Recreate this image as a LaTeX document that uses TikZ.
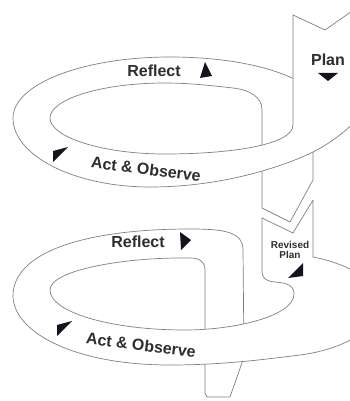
\documentclass[tikz,border=0pt]{standalone}
\usepackage{fontspec}
\setmainfont{Liberation Sans}
\usepackage{xcolor}
\definecolor{edge}{HTML}{808080}
\definecolor{ink}{HTML}{2E2E2E}
\definecolor{tip}{HTML}{141420}

\begin{document}
\begin{tikzpicture}[x=1pt,y=-1pt,band/.style={draw=edge,line width=0.7pt,fill=white,line join=round},big/.style={text=ink,font=\fontsize{16}{16}\selectfont\bfseries,inner sep=0pt},small/.style={text=ink,font=\fontsize{10}{10.5}\selectfont\bfseries,inner sep=0pt,align=center},pointer/.style={fill=tip}]
	\useasboundingbox (0,0) rectangle (350,401);
	\clip (0,0) rectangle (350,401);
	% upper loop, back half running into the strip
	\draw[band] (13,118) .. controls (13,84) and (83,57) .. (170,57) .. controls (230,57) and (275,68) .. (300,82) -- (313,95) -- (313,180) -- (290,222) -- (262,208) -- (262,110) .. controls (262,97) and (250,90) .. (233,88) .. controls (215,86) and (190,83) .. (165,83) .. controls (102,83) and (50,99) .. (50,118);
	% upper loop, plan strip and front half
	\draw[band] (50,118) .. controls (50,137) and (102,154) .. (165,154) .. controls (230,154) and (293,145) .. (293,125) -- (293,15) -- (325,30) -- (365,2) -- (380,2) -- (380,100) -- (370,105) .. controls (358,120) and (339,139) .. (313,152) .. controls (280,168) and (220,187) .. (150,187) .. controls (75,187) and (13,156) .. (13,118);
	% lower loop, back half and the way out
	\draw[band] (13,296) .. controls (13,252) and (85,229) .. (190,229) .. controls (225,229) and (243,232) .. (243,250) -- (244,357) -- (230,397) -- (207,397) -- (205,393) -- (205,270) .. controls (205,262) and (200,258) .. (190,258) .. controls (125,257) and (50,270) .. (50,290);
	% lower loop, revised plan and front half
	\draw[band] (50,290) .. controls (50,312) and (110,330) .. (185,330) .. controls (235,330) and (294,316) .. (294,294) .. controls (294,286) and (288,283) .. (275,282) .. controls (266,281) and (262,279) .. (262,270) -- (262,218) -- (293,233) -- (313,200) -- (313,257) .. controls (345,263) and (380,280) .. (380,305) .. controls (380,330) and (340,350) .. (300,355) .. controls (260,360) and (220,365) .. (170,365) .. controls (70,365) and (13,330) .. (13,296);
	% labels
	\node[big] (plan) at (328,60) {Plan};
	\node[big] (reflectTop) at (154,71) {Reflect};
	\node[big,rotate=-7] (actTop) at (146,169) {Act \& Observe};
	\node[small] (revised) at (290,250) {Revised\\Plan};
	\node[big] (reflectLow) at (138,242) {Reflect};
	\node[big,rotate=-7] (actLow) at (141,345) {Act \& Observe};
	% arrow heads
	\fill[pointer] (318,73) -- (338,73) -- (328,81) -- cycle;
	\fill[pointer] (205,62) -- (200,78) -- (212,76) -- cycle;
	\fill[pointer] (53,151) -- (68,147) -- (53,162) -- cycle;
	\fill[pointer] (303,263) -- (288,278) -- (303,276) -- cycle;
	\fill[pointer] (180,232) -- (181,250) -- (191,240) -- cycle;
	\fill[pointer] (57,325) -- (72,321) -- (57,336) -- cycle;
\end{tikzpicture}
\end{document}
